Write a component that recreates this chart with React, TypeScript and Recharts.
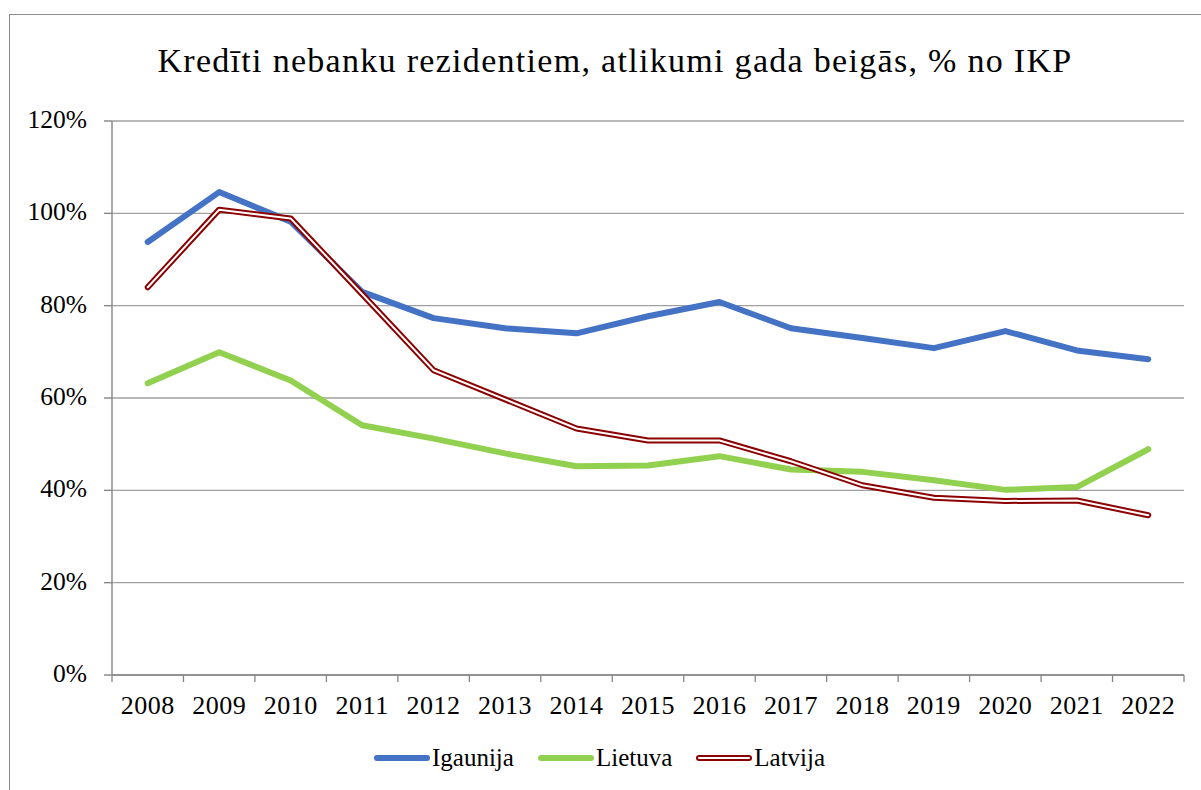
import React from 'react';
import { LineChart, Line, XAxis, YAxis, CartesianGrid } from 'recharts';

const years = ['2008', '2009', '2010', '2011', '2012', '2013', '2014', '2015', '2016', '2017', '2018', '2019', '2020', '2021', '2022'];
const igaunija = [93.8, 104.6, 98.2, 83.0, 77.3, 75.1, 74.0, 77.7, 80.8, 75.1, 73.0, 70.8, 74.5, 70.3, 68.4];
const lietuva = [63.2, 69.9, 63.8, 54.1, 51.2, 48.0, 45.2, 45.4, 47.4, 44.5, 44.0, 42.2, 40.1, 40.7, 48.9];
const latvija = [84.0, 100.8, 98.9, 82.5, 66.0, 59.7, 53.4, 50.8, 50.8, 46.3, 41.1, 38.4, 37.7, 37.8, 34.6];
const yTicks = [0, 20, 40, 60, 80, 100, 120];

const data = years.map((year, i) => ({
  x: i + 0.5,
  year,
  igaunija: igaunija[i],
  lietuva: lietuva[i],
  latvija: latvija[i],
}));

const xTicks: number[] = [];
for (let i = 0; i <= years.length * 2; i++) xTicks.push(i / 2);

const FONT = '"Liberation Serif", "Times New Roman", serif';

const YearTick = ({ x, y, payload }: any) => {
  const v = payload.value;
  if (Number.isInteger(v)) {
    return <line x1={x} x2={x} y1={y} y2={y + 7} stroke="#868686" strokeWidth={1.3} />;
  }
  const label = years[Math.floor(v)];
  return (
    <text x={x} y={y + 39} textAnchor="middle" fontFamily={FONT} fontSize={26} letterSpacing={0.5} fill="#000">
      {label}
    </text>
  );
};

const Swatch = ({ color, double }: { color: string; double?: boolean }) => (
  <svg width={56} height={12} style={{ display: 'block' }}>
    <line x1={3} x2={53} y1={6} y2={6} stroke={color} strokeWidth={6} strokeLinecap="round" />
    {double && <line x1={3} x2={53} y1={6} y2={6} stroke="#fff" strokeWidth={2} strokeLinecap="round" />}
  </svg>
);

const legendItems = [
  { name: 'Igaunija', color: '#4472C4' },
  { name: 'Lietuva', color: '#92D050' },
  { name: 'Latvija', color: '#8B0000', double: true },
];

export default function App() {
  return (
    <div style={{ position: 'relative', width: 1201, height: 790, overflow: 'hidden', background: '#fff' }}>
      <style>{'body{margin:0;overflow:hidden}'}</style>
      <div
        style={{
          position: 'absolute',
          left: 9,
          top: 14,
          width: 1400,
          height: 1000,
          borderLeft: '1.5px solid #8c8c8c',
          borderTop: '1.5px solid #8c8c8c',
        }}
      />
      <div
        style={{
          position: 'absolute',
          top: 42,
          left: 0,
          width: 1230,
          textAlign: 'center',
          fontFamily: FONT,
          fontSize: 34,
          letterSpacing: 1.3,
          color: '#000',
          whiteSpace: 'nowrap',
        }}
      >
        Kredīti nebanku rezidentiem, atlikumi gada beigās, % no IKP
      </div>
      <div style={{ position: 'absolute', top: 0, left: 0 }}>
        <LineChart width={1201} height={790} data={data} margin={{ top: 121, right: 17, left: 12, bottom: 75 }}>
          <CartesianGrid horizontal vertical={false} stroke="#a0a0a0" strokeWidth={1.4} />
          <XAxis
            type="number"
            dataKey="x"
            domain={[0, years.length]}
            ticks={xTicks}
            interval={0}
            tickLine={false}
            tickSize={0}
            tickMargin={0}
            height={40}
            axisLine={{ stroke: '#868686', strokeWidth: 1.4 }}
            tick={<YearTick />}
          />
          <YAxis
            domain={[0, 120]}
            ticks={yTicks}
            interval={0}
            width={100}
            tickSize={8}
            tickMargin={17}
            tickFormatter={(v) => `${v}%`}
            axisLine={{ stroke: '#868686', strokeWidth: 1.4 }}
            tickLine={{ stroke: '#868686', strokeWidth: 1.4 }}
            tick={{ fontFamily: FONT, fontSize: 25.5, fill: '#000', dy: -2 }}
          />
          <Line
            type="linear"
            dataKey="igaunija"
            stroke="#4472C4"
            strokeWidth={6}
            strokeLinecap="round"
            strokeLinejoin="round"
            dot={false}
            isAnimationActive={false}
          />
          <Line
            type="linear"
            dataKey="lietuva"
            stroke="#92D050"
            strokeWidth={6}
            strokeLinecap="round"
            strokeLinejoin="round"
            dot={false}
            isAnimationActive={false}
          />
          <Line
            type="linear"
            dataKey="latvija"
            stroke="#8B0000"
            strokeWidth={6}
            strokeLinecap="round"
            strokeLinejoin="round"
            dot={false}
            isAnimationActive={false}
          />
          <Line
            type="linear"
            dataKey="latvija"
            stroke="#ffffff"
            strokeWidth={2}
            strokeLinecap="round"
            strokeLinejoin="round"
            dot={false}
            isAnimationActive={false}
            legendType="none"
          />
        </LineChart>
      </div>
      <div
        style={{
          position: 'absolute',
          top: 744,
          left: 374,
          display: 'flex',
          alignItems: 'center',
          fontFamily: FONT,
          fontSize: 25,
          color: '#000',
        }}
      >
        {legendItems.map((it, i) => (
          <div key={it.name} style={{ display: 'flex', alignItems: 'center', marginRight: i < 2 ? 24 : 0 }}>
            <Swatch color={it.color} double={it.double} />
            <span style={{ marginLeft: 2 }}>{it.name}</span>
          </div>
        ))}
      </div>
    </div>
  );
}
